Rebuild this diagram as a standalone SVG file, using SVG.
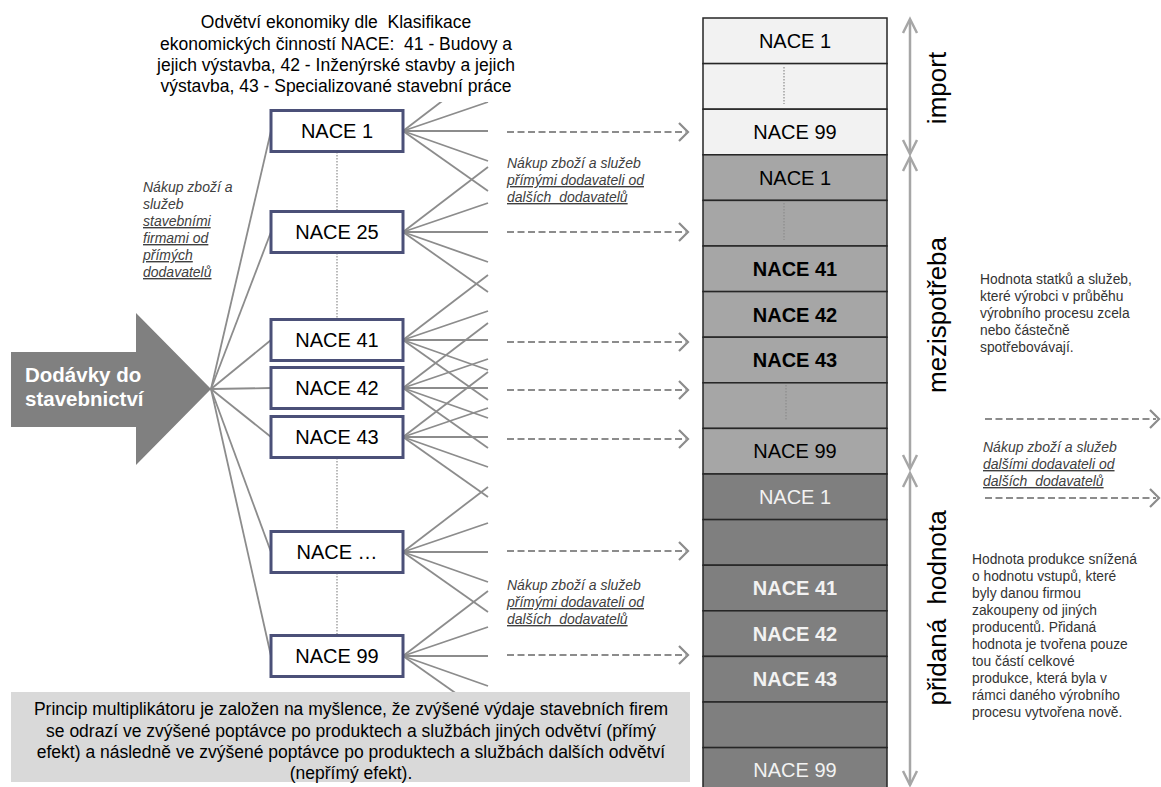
<svg xmlns="http://www.w3.org/2000/svg" width="1161" height="787" viewBox="0 0 1161 787">
<style>
text{font-family:"Liberation Sans",Arial,sans-serif;}
.fan line{stroke:#8c8c8c;stroke-width:1.8;}
.box{fill:#ffffff;stroke:#4b5078;stroke-width:3;}
.bl{font-size:20px;fill:#000;text-anchor:middle;}
.dash{stroke:#8c8c8c;stroke-width:2.2;stroke-dasharray:7 3.5;fill:none;}
.head{stroke:#8c8c8c;stroke-width:2.2;fill:none;}
.dot{stroke:#8c8c8c;stroke-width:1.2;stroke-dasharray:1.5 1.5;}
.note{font-size:14px;font-style:italic;fill:#404040;}
.u{text-decoration:underline;}
.desc{font-size:13.8px;fill:#333;}
.cell{stroke:#262626;stroke-width:1.5;}
.ct{font-size:20px;text-anchor:middle;}
.va{stroke:#a6a6a6;stroke-width:2.5;fill:none;}
.rot{font-size:26px;fill:#000;text-anchor:middle;}
.big{font-size:17.5px;fill:#000;text-anchor:middle;}
</style>

<g id="connectors">
  <g class="fan">
    <line x1="211" y1="389" x2="271" y2="131"/>
    <line x1="211" y1="389" x2="271" y2="232"/>
    <line x1="211" y1="389" x2="271" y2="340"/>
    <line x1="211" y1="389" x2="271" y2="388"/>
    <line x1="211" y1="389" x2="271" y2="437"/>
    <line x1="211" y1="389" x2="271" y2="552"/>
    <line x1="211" y1="389" x2="271" y2="656"/>
    <line x1="403" y1="131" x2="488" y2="66"/><line x1="403" y1="131" x2="488" y2="102"/><line x1="403" y1="131" x2="488" y2="131"/><line x1="403" y1="131" x2="488" y2="161"/><line x1="403" y1="131" x2="488" y2="191"/>
    <line x1="403" y1="232" x2="488" y2="167"/><line x1="403" y1="232" x2="488" y2="203"/><line x1="403" y1="232" x2="488" y2="232"/><line x1="403" y1="232" x2="488" y2="262"/><line x1="403" y1="232" x2="488" y2="292"/>
    <line x1="403" y1="340" x2="488" y2="275"/><line x1="403" y1="340" x2="488" y2="311"/><line x1="403" y1="340" x2="488" y2="340"/><line x1="403" y1="340" x2="488" y2="370"/><line x1="403" y1="340" x2="488" y2="400"/>
    <line x1="403" y1="388" x2="488" y2="323"/><line x1="403" y1="388" x2="488" y2="359"/><line x1="403" y1="388" x2="488" y2="388"/><line x1="403" y1="388" x2="488" y2="418"/><line x1="403" y1="388" x2="488" y2="448"/>
    <line x1="403" y1="437" x2="488" y2="372"/><line x1="403" y1="437" x2="488" y2="408"/><line x1="403" y1="437" x2="488" y2="437"/><line x1="403" y1="437" x2="488" y2="467"/><line x1="403" y1="437" x2="488" y2="497"/>
    <line x1="403" y1="552" x2="488" y2="487"/><line x1="403" y1="552" x2="488" y2="523"/><line x1="403" y1="552" x2="488" y2="552"/><line x1="403" y1="552" x2="488" y2="582"/><line x1="403" y1="552" x2="488" y2="612"/>
    <line x1="403" y1="656" x2="488" y2="591"/><line x1="403" y1="656" x2="488" y2="627"/><line x1="403" y1="656" x2="488" y2="656"/><line x1="403" y1="656" x2="488" y2="686"/><line x1="403" y1="656" x2="488" y2="716"/>
  </g>
  <line class="dot" x1="337" y1="152" x2="337" y2="211"/>
  <line class="dot" x1="337" y1="253" x2="337" y2="319"/>
  <line class="dot" x1="337" y1="458" x2="337" y2="531"/>
  <line class="dot" x1="337" y1="573" x2="337" y2="635"/>
  <g>
    <line class="dash" x1="507" y1="132" x2="686" y2="132"/><polyline class="head" points="679,123 688,132 679,141"/>
    <line class="dash" x1="507" y1="232" x2="686" y2="232"/><polyline class="head" points="679,223 688,232 679,241"/>
    <line class="dash" x1="507" y1="342" x2="686" y2="342"/><polyline class="head" points="679,333 688,342 679,351"/>
    <line class="dash" x1="507" y1="390" x2="686" y2="390"/><polyline class="head" points="679,381 688,390 679,399"/>
    <line class="dash" x1="507" y1="439" x2="686" y2="439"/><polyline class="head" points="679,430 688,439 679,448"/>
    <line class="dash" x1="507" y1="551" x2="686" y2="551"/><polyline class="head" points="679,542 688,551 679,560"/>
    <line class="dash" x1="507" y1="655" x2="686" y2="655"/><polyline class="head" points="679,646 688,655 679,664"/>
    <line class="dash" x1="985" y1="419" x2="1156" y2="419"/><polyline class="head" points="1150,410 1159,419 1150,428"/>
    <line class="dash" x1="985" y1="498" x2="1156" y2="498"/><polyline class="head" points="1150,489 1159,498 1150,507"/>
  </g>
  <g>
    <line class="va" x1="910" y1="20" x2="910" y2="153"/>
    <polyline class="va" points="903,33 910,19 917,33"/>
    <polyline class="va" points="903,140 910,154 917,140"/>
    <line class="va" x1="910" y1="158" x2="910" y2="468"/>
    <polyline class="va" points="903,171 910,157 917,171"/>
    <polyline class="va" points="903,455 910,469 917,455"/>
    <line class="va" x1="910" y1="474" x2="910" y2="785"/>
    <polyline class="va" points="903,487 910,473 917,487"/>
    <polyline class="va" points="903,771 910,785 917,771"/>
  </g>
</g>

<g id="title">
  <rect x="150" y="0" width="391" height="102" fill="#ffffff"/>
  <text class="big" xml:space="preserve" x="336" y="28">Odvětví ekonomiky dle  Klasifikace</text>
  <text class="big" xml:space="preserve" x="336" y="50">ekonomických činností NACE:  41 - Budovy a</text>
  <text class="big" x="336" y="71">jejich výstavba, 42 - Inženýrské stavby a jejich</text>
  <text class="big" x="336" y="92">výstavba, 43 - Specializované stavební práce</text>
</g>

<g id="summary">
  <rect x="11" y="692" width="679" height="90" fill="#d9d9d9"/>
  <text class="big" x="351" y="715">Princip multiplikátoru je založen na myšlence, že zvýšené výdaje stavebních firem</text>
  <text class="big" x="351" y="737">se odrazí ve zvýšené poptávce po produktech a službách jiných odvětví (přímý</text>
  <text class="big" x="351" y="758">efekt) a následně ve zvýšené poptávce po produktech a službách dalších odvětví</text>
  <text class="big" x="351" y="779">(nepřímý efekt).</text>
</g>

<g id="source-arrow">
  <polygon points="11,352 136,352 136,313 211,389 136,465 136,427 11,427" fill="#808080"/>
  <text x="25" y="382" font-size="20.5" font-weight="bold" fill="#ffffff">Dodávky do</text>
  <text x="25" y="406" font-size="20.5" font-weight="bold" fill="#ffffff">stavebnictví</text>
</g>

<g id="note-left">
  <text class="note" x="143" y="192">Nákup zboží a</text>
  <text class="note" x="143" y="209">služeb</text>
  <text class="note u" x="143" y="226">stavebními</text>
  <text class="note u" x="143" y="243">firmami od</text>
  <text class="note u" x="143" y="260">přímých</text>
  <text class="note u" x="143" y="277">dodavatelů</text>
</g>

<g id="box-nace1"><rect class="box" x="271" y="110.5" width="132" height="41"/><text class="bl" x="337" y="138">NACE 1</text></g>
<g id="box-nace25"><rect class="box" x="271" y="211.5" width="132" height="41"/><text class="bl" x="337" y="239">NACE 25</text></g>
<g id="box-nace41"><rect class="box" x="271" y="319.5" width="132" height="41"/><text class="bl" x="337" y="347">NACE 41</text></g>
<g id="box-nace42"><rect class="box" x="271" y="367.5" width="132" height="41"/><text class="bl" x="337" y="395">NACE 42</text></g>
<g id="box-nace43"><rect class="box" x="271" y="416.5" width="132" height="41"/><text class="bl" x="337" y="444">NACE 43</text></g>
<g id="box-nacedots"><rect class="box" x="271" y="531.5" width="132" height="41"/><text class="bl" x="337" y="559">NACE …</text></g>
<g id="box-nace99"><rect class="box" x="271" y="635.5" width="132" height="41"/><text class="bl" x="337" y="663">NACE 99</text></g>

<g id="note-mid-top">
  <text class="note" x="507" y="168">Nákup zboží a služeb</text>
  <text class="note u" x="507" y="185">přímými dodavateli od</text>
  <text class="note u" xml:space="preserve" x="507" y="202">dalších  dodavatelů</text>
</g>
<g id="note-mid-bottom">
  <text class="note" x="507" y="590">Nákup zboží a služeb</text>
  <text class="note u" x="507" y="607">přímými dodavateli od</text>
  <text class="note u" xml:space="preserve" x="507" y="624">dalších  dodavatelů</text>
</g>

<g id="column">
  <g id="imp">
    <rect class="cell" x="703" y="18" width="184" height="45.6" fill="#f2f2f2"/>
    <rect class="cell" x="703" y="63.6" width="184" height="45.6" fill="#f2f2f2"/>
    <rect class="cell" x="703" y="109.2" width="184" height="45.6" fill="#f2f2f2"/>
    <text class="ct" x="795" y="48" fill="#000">NACE 1</text>
    <line class="dot" x1="784" y1="67" x2="784" y2="104"/>
    <text class="ct" x="795" y="139" fill="#000">NACE 99</text>
  </g>
  <g id="mezi">
    <rect class="cell" x="703" y="154.8" width="184" height="45.6" fill="#a6a6a6"/>
    <rect class="cell" x="703" y="200.4" width="184" height="45.6" fill="#a6a6a6"/>
    <rect class="cell" x="703" y="246" width="184" height="45.6" fill="#a6a6a6"/>
    <rect class="cell" x="703" y="291.6" width="184" height="45.6" fill="#a6a6a6"/>
    <rect class="cell" x="703" y="337.2" width="184" height="45.6" fill="#a6a6a6"/>
    <rect class="cell" x="703" y="382.8" width="184" height="45.6" fill="#a6a6a6"/>
    <rect class="cell" x="703" y="428.4" width="184" height="45.6" fill="#a6a6a6"/>
    <text class="ct" x="795" y="185" fill="#000">NACE 1</text>
    <line class="dot" x1="784" y1="203" x2="784" y2="240"/>
    <text class="ct" x="795" y="276" fill="#000" font-weight="bold">NACE 41</text>
    <text class="ct" x="795" y="322" fill="#000" font-weight="bold">NACE 42</text>
    <text class="ct" x="795" y="367" fill="#000" font-weight="bold">NACE 43</text>
    <line class="dot" x1="786" y1="385" x2="786" y2="421"/>
    <text class="ct" x="795" y="458" fill="#000">NACE 99</text>
  </g>
  <g id="prid">
    <rect class="cell" x="703" y="474" width="184" height="45.6" fill="#7f7f7f"/>
    <rect class="cell" x="703" y="519.6" width="184" height="45.6" fill="#7f7f7f"/>
    <rect class="cell" x="703" y="565.2" width="184" height="45.6" fill="#7f7f7f"/>
    <rect class="cell" x="703" y="610.8" width="184" height="45.6" fill="#7f7f7f"/>
    <rect class="cell" x="703" y="656.4" width="184" height="45.6" fill="#7f7f7f"/>
    <rect class="cell" x="703" y="702" width="184" height="45.6" fill="#7f7f7f"/>
    <rect class="cell" x="703" y="747.6" width="184" height="45.6" fill="#7f7f7f"/>
    <text class="ct" x="795" y="504" fill="#f2f2f2">NACE 1</text>
    <text class="ct" x="795" y="595" fill="#f2f2f2" font-weight="bold">NACE 41</text>
    <text class="ct" x="795" y="641" fill="#f2f2f2" font-weight="bold">NACE 42</text>
    <text class="ct" x="795" y="686" fill="#f2f2f2" font-weight="bold">NACE 43</text>
    <text class="ct" x="795" y="777" fill="#f2f2f2">NACE 99</text>
  </g>
</g>

<g id="labels">
  <text class="rot" transform="translate(946,88) rotate(-90)">import</text>
  <text class="rot" transform="translate(946,315) rotate(-90)">mezispotřeba</text>
  <text class="rot" xml:space="preserve" transform="translate(946,608) rotate(-90)">přidaná  hodnota</text>
</g>

<g id="desc-mezi">
  <text class="desc" x="980" y="284">Hodnota statků a služeb,</text>
  <text class="desc" x="980" y="301">které výrobci v průběhu</text>
  <text class="desc" x="980" y="318">výrobního procesu zcela</text>
  <text class="desc" x="980" y="335">nebo částečně</text>
  <text class="desc" x="980" y="352">spotřebovávají.</text>
</g>
<g id="note-right">
  <text class="note" x="983" y="452">Nákup zboží a služeb</text>
  <text class="note u" x="983" y="469">dalšími dodavateli od</text>
  <text class="note u" xml:space="preserve" x="983" y="486">dalších  dodavatelů</text>
</g>
<g id="desc-prid">
  <text class="desc" x="972" y="564">Hodnota produkce snížená</text>
  <text class="desc" x="972" y="581">o hodnotu vstupů, které</text>
  <text class="desc" x="972" y="598">byly danou firmou</text>
  <text class="desc" x="972" y="615">zakoupeny od jiných</text>
  <text class="desc" x="972" y="632">producentů. Přidaná</text>
  <text class="desc" x="972" y="649">hodnota je tvořena pouze</text>
  <text class="desc" x="972" y="666">tou částí celkové</text>
  <text class="desc" x="972" y="683">produkce, která byla v</text>
  <text class="desc" x="972" y="700">rámci daného výrobního</text>
  <text class="desc" x="972" y="717">procesu vytvořena nově.</text>
</g>
</svg>
